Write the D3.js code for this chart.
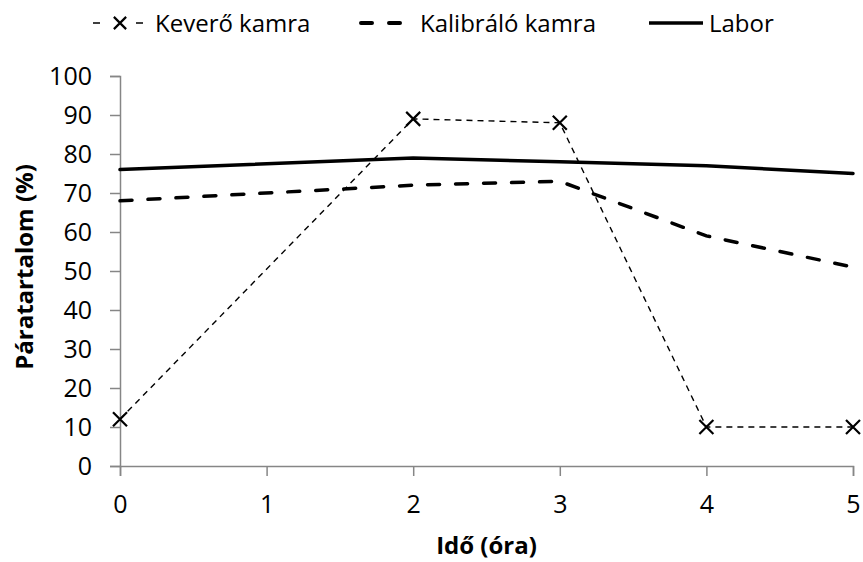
<!DOCTYPE html>
<html>
<head>
<meta charset="utf-8">
<script src="https://cdn.jsdelivr.net/npm/d3@7"></script>
<style>
  html, body { margin: 0; padding: 0; background: #fff; }
  svg { display: block; font-family: "Open Sans", sans-serif; }
</style>
</head>
<body>
<svg id="chart" width="863" height="562"></svg>
<script>
// Measurement hours and humidity readings (%)
const hours = [0, 2, 3, 4, 5];
const keveroKamra = [12, 89, 88, 10, 10];
const kalibraloKamra = [68, 72, 73, 59, 51];
const labor = [76, 79, 78, 77, 75];
const xTicks = [0, 1, 2, 3, 4, 5];
const yTicks = [0, 10, 20, 30, 40, 50, 60, 70, 80, 90, 100];
const seriesNames = ["Keverő kamra", "Kalibráló kamra", "Labor"];

const FONT = "'Open Sans', sans-serif";
const svg = d3.select("#chart");
const x = d3.scaleLinear().domain([0, 5]).range([120, 853]);
const y = d3.scaleLinear().domain([0, 100]).range([466, 76]);

const axisColor = "#868686";

// Y axis
const yAxis = svg.append("g").attr("transform", `translate(${x(0)},0)`)
  .call(d3.axisLeft(y).tickValues(yTicks).tickSize(10).tickPadding(18));
// X axis
const xAxis = svg.append("g").attr("transform", `translate(0,${y(0)})`)
  .call(d3.axisBottom(x).tickValues(xTicks).tickSize(10).tickPadding(19).tickFormat(d3.format("d")));

[yAxis, xAxis].forEach(g => {
  g.attr("font-size", 25).attr("font-family", FONT);
  g.select(".domain").attr("stroke", axisColor).attr("stroke-width", 1.5);
  g.selectAll(".tick line").attr("stroke", axisColor).attr("stroke-width", 1.5);
  g.selectAll(".tick text").attr("fill", "#000");
});

// Axis titles
svg.append("text")
  .attr("x", (x(0) + x(5)) / 2).attr("y", 554)
  .attr("text-anchor", "middle").attr("font-size", 24).attr("font-weight", "bold")
  .text("Idő (óra)");
svg.append("text")
  .attr("transform", `translate(33,267) rotate(-90)`)
  .attr("text-anchor", "middle").attr("font-size", 24).attr("font-weight", "bold")
  .text("Páratartalom (%)");

const line = d3.line().x(d => x(d[0])).y(d => y(d[1]));
const zip = vals => hours.map((h, i) => [h, vals[i]]);

// Labor: solid thick
svg.append("path").datum(zip(labor)).attr("d", line)
  .attr("fill", "none").attr("stroke", "#000").attr("stroke-width", 3.5)
  .attr("stroke-linecap", "round");

// Kalibráló kamra: thick dashes
svg.append("path").datum(zip(kalibraloKamra)).attr("d", line)
  .attr("fill", "none").attr("stroke", "#000").attr("stroke-width", 3.5)
  .attr("stroke-dasharray", "12,16").attr("stroke-linecap", "round");

// Keverő kamra: thin dashes with x markers
svg.append("path").datum(zip(keveroKamra)).attr("d", line)
  .attr("fill", "none").attr("stroke", "#000").attr("stroke-width", 1.4)
  .attr("stroke-dasharray", "6,5");

// Diagonal cross marker, half-width r
const crossType = {
  draw(ctx, size) {
    const r = Math.sqrt(size) / 2;
    ctx.moveTo(-r, -r); ctx.lineTo(r, r);
    ctx.moveTo(-r, r); ctx.lineTo(r, -r);
  }
};
const cross = d3.symbol().type(crossType).size(196);
svg.append("g").selectAll("path.marker").data(zip(keveroKamra)).join("path")
  .attr("class", "marker")
  .attr("transform", d => `translate(${x(d[0])},${y(d[1])})`)
  .attr("d", cross).attr("fill", "none").attr("stroke", "#000").attr("stroke-width", 2.2);

// Legend
const legend = svg.append("g").attr("font-size", 24);
const ly = 23;
const textY = 32;
// Keverő kamra entry: dash, cross, dash
legend.append("line").attr("x1", 93).attr("x2", 143).attr("y1", ly).attr("y2", ly)
  .attr("stroke", "#000").attr("stroke-width", 1.6).attr("stroke-dasharray", "7,10,0,16,0,10,7");
legend.append("path").attr("transform", `translate(120,${ly})`)
  .attr("d", d3.symbol().type(crossType).size(150))
  .attr("fill", "none").attr("stroke", "#000").attr("stroke-width", 2.2);
legend.append("text").attr("x", 155).attr("y", textY).text(seriesNames[0]);
// Kalibráló kamra entry
legend.append("line").attr("x1", 361).attr("x2", 401).attr("y1", ly).attr("y2", ly)
  .attr("stroke", "#000").attr("stroke-width", 4).attr("stroke-dasharray", "11,17")
  .attr("stroke-linecap", "round");
legend.append("text").attr("x", 420).attr("y", textY).text(seriesNames[1]);
// Labor entry
legend.append("line").attr("x1", 649).attr("x2", 703).attr("y1", ly).attr("y2", ly)
  .attr("stroke", "#000").attr("stroke-width", 3.5);
legend.append("text").attr("x", 709).attr("y", textY).text(seriesNames[2]);
</script>
</body>
</html>
